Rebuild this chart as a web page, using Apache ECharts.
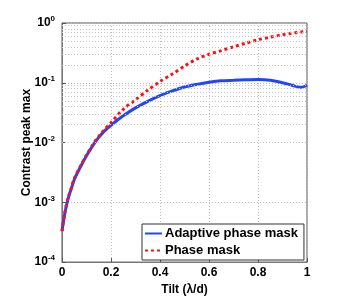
<!DOCTYPE html>
<html>
<head>
<meta charset="utf-8">
<script src="https://cdn.jsdelivr.net/npm/echarts@6/dist/echarts.min.js"></script>
<style>html,body{margin:0;padding:0;background:#fff}#c{width:356px;height:301px}</style>
</head>
<body>
<div id="c"></div>
<script>
var tilt = [0, 0.012, 0.025, 0.04, 0.05, 0.075, 0.1, 0.125, 0.15, 0.175, 0.2, 0.25, 0.3, 0.35, 0.4, 0.45, 0.5, 0.55, 0.6, 0.65, 0.7, 0.75, 0.8, 0.85, 0.9, 0.93, 0.95, 0.975, 1.0];
var adaptive = [3.3e-4, 6.7e-4, 1.15e-3, 1.8e-3, 2.4e-3, 3.9e-3, 6.0e-3, 8.8e-3, 0.0122, 0.0158, 0.0195, 0.028, 0.038, 0.049, 0.061, 0.073, 0.085, 0.094, 0.102, 0.108, 0.110, 0.112, 0.113, 0.110, 0.100, 0.093, 0.088, 0.084, 0.091];
var phase = [3.3e-4, 6.9e-4, 1.2e-3, 1.85e-3, 2.5e-3, 4.0e-3, 6.2e-3, 9.1e-3, 0.0127, 0.0168, 0.0215, 0.036, 0.052, 0.075, 0.105, 0.14, 0.19, 0.25, 0.30, 0.345, 0.40, 0.46, 0.525, 0.58, 0.635, 0.665, 0.685, 0.705, 0.72];
var seriesNames = ['Adaptive phase mask', 'Phase mask'];
var xTicks = [0, 0.2, 0.4, 0.6, 0.8, 1];
var yDecades = [1e-4, 1e-3, 1e-2, 1e-1, 1];
var minorMultipliers = [2, 3, 4, 5, 6, 7, 8, 9];

var minorLines = [];
for (var d = 0; d < yDecades.length - 1; d++) {
  for (var m = 0; m < minorMultipliers.length; m++) {
    minorLines.push({ yAxis: yDecades[d] * minorMultipliers[m] });
  }
}

function pair(xs, ys) { var out = []; for (var i = 0; i < xs.length; i++) out.push([xs[i], ys[i]]); return out; }

var FONT = "'Liberation Sans', Arial, Helvetica, sans-serif";
var chart = echarts.init(document.getElementById('c'), null, { renderer: 'canvas' });
chart.setOption({
  animation: false,
  backgroundColor: '#fff',
  textStyle: { fontFamily: FONT },
  grid: { left: 62, right: 49, top: 23, bottom: 34, show: true, borderColor: '#555', borderWidth: 1, backgroundColor: 'transparent' },
  xAxis: {
    type: 'value', min: 0, max: 1, interval: 0.2,
    name: 'Tilt (\u03bb/d)', nameLocation: 'middle', nameGap: 18,
    nameTextStyle: { fontFamily: FONT, fontWeight: 'bold', fontSize: 12, color: '#000' },
    axisLine: { show: true, lineStyle: { color: '#777', width: 1 } },
    axisTick: { show: true, inside: true, length: 4, lineStyle: { color: '#555' } },
    axisLabel: { fontFamily: FONT, fontWeight: 'bold', fontSize: 12, color: '#000', margin: 5,
      formatter: function (v) { return String(+v.toFixed(1)); } },
    splitLine: { show: true, lineStyle: { color: '#bbb', type: [1, 2], width: 1 } }
  },
  yAxis: {
    type: 'log', logBase: 10, min: 1e-4, max: 1,
    name: 'Contrast peak max', nameLocation: 'middle', nameGap: 29, nameMoveOverlap: false,
    nameTextStyle: { fontFamily: FONT, fontWeight: 'bold', fontSize: 12, color: '#000' },
    axisLine: { show: true, lineStyle: { color: '#777', width: 1 } },
    axisTick: { show: true, inside: true, length: 4, lineStyle: { color: '#555' } },
    axisLabel: {
      margin: 7,
      formatter: function (v) { var e = Math.round(Math.log10(v)); return '{b|10}{s|' + e + '}'; },
      rich: {
        b: { fontFamily: FONT, fontWeight: 'bold', fontSize: 12, color: '#000', lineHeight: 16 },
        s: { fontFamily: FONT, fontWeight: 'bold', fontSize: 8, color: '#000', lineHeight: 8, verticalAlign: 'top' }
      }
    },
    splitLine: { show: true, lineStyle: { color: '#bbb', type: [1, 2], width: 1 } }
  },
  legend: {
    orient: 'vertical', left: 142, top: 224,
    itemWidth: 17, itemHeight: 12, itemGap: 4,
    padding: [3, 6, 3, 2],
    borderColor: '#333', borderWidth: 1, backgroundColor: '#fff',
    itemStyle: { opacity: 0 },
    textStyle: { fontFamily: FONT, fontWeight: 'bold', fontSize: 13, color: '#000', padding: [0, 0, 0, -2] },
    data: seriesNames
  },
  series: [
    {
      name: seriesNames[0], type: 'line', data: pair(tilt, adaptive), symbol: 'none', smooth: 0.3,
      lineStyle: { color: '#2244ff', width: 3 }, itemStyle: { color: '#2244ff' }, z: 3,
      markLine: { silent: true, symbol: 'none', label: { show: false },
        lineStyle: { color: '#c4c4c4', type: [1, 2], width: 1 }, data: minorLines, animation: false }
    },
    {
      name: seriesNames[1], type: 'line', data: pair(tilt, phase), symbol: 'none', smooth: 0.3,
      lineStyle: { color: '#ff1010', width: 3, type: [3, 3] }, itemStyle: { color: '#ff1010' }, z: 4
    }
  ]
});
</script>
</body>
</html>
